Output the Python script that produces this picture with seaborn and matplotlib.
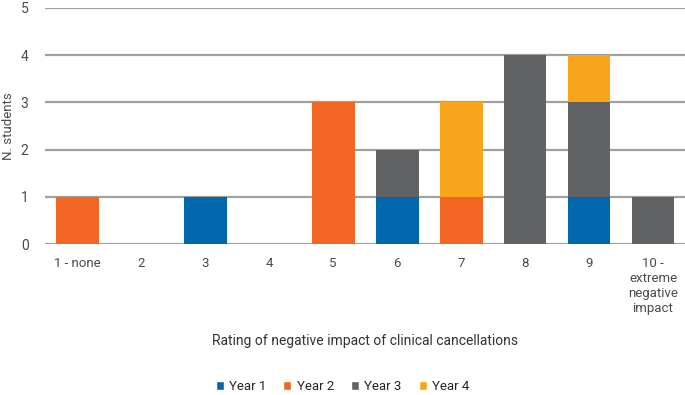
import numpy as np
import pandas as pd
import matplotlib
matplotlib.use('Agg')
import matplotlib.pyplot as plt
import seaborn as sns
from matplotlib.patches import Patch

## data
ratings = ['1 - none', '2', '3', '4', '5', '6', '7', '8', '9',
           '10 -\nextreme\nnegative\nimpact']
year1 = [0, 0, 1, 0, 0, 1, 0, 0, 1, 0]
year2 = [1, 0, 0, 0, 3, 0, 1, 0, 0, 0]
year3 = [0, 0, 0, 0, 0, 1, 0, 4, 2, 1]
year4 = [0, 0, 0, 0, 0, 0, 2, 0, 1, 0]
years = ['Year 1', 'Year 2', 'Year 3', 'Year 4']
colors = ['#0067ac', '#f26522', '#616264', '#f9a51b']

sns.set_style('white')
plt.rcParams['font.family'] = ['Roboto', 'DejaVu Sans']
txt = '#4a4a4a'

df = pd.DataFrame({'rating': ratings, 'Year 1': year1, 'Year 2': year2,
                   'Year 3': year3, 'Year 4': year4})

fig = plt.figure(figsize=(6.85, 3.95), dpi=100)
ax = fig.add_axes([0.066, 0.382, 0.934, 0.598])

## stacked bars: draw cumulative totals from the top layer down
cum = df[years].cumsum(axis=1)
for i in range(len(years) - 1, -1, -1):
    sns.barplot(x=df['rating'], y=cum[years[i]], color=colors[i],
                width=0.67, saturation=1, linewidth=0, ax=ax, zorder=3)

ax.set_ylim(0, 5)
ax.set_yticks(range(6))
ax.yaxis.grid(True, color='#a0a0a0', linewidth=1.6, zorder=0)
ax.set_axisbelow(True)
for s in ax.spines.values():
    s.set_visible(False)
ax.tick_params(axis='both', length=0, labelsize=9.5, labelcolor=txt)
ax.tick_params(axis='y', labelsize=10)
ax.tick_params(axis='x', pad=9)
ax.tick_params(axis='y', pad=12)
ax.set_xlim(-0.5, 9.5)
ax.set_ylabel('N. students', fontsize=9.5, color=txt, labelpad=4)
ax.set_xlabel('Rating of negative impact of clinical cancellations',
              fontsize=10, color='#333333', labelpad=14)

handles = [Patch(facecolor=c, label=y) for c, y in zip(colors, years)]
fig.legend(handles=handles, loc='lower center', ncol=4, frameon=False,
           bbox_to_anchor=(0.5, -0.025), fontsize=9.5, handlelength=0.6,
           handleheight=0.6, columnspacing=1.3, handletextpad=0.4)

plt.savefig('out.png', dpi=100)
